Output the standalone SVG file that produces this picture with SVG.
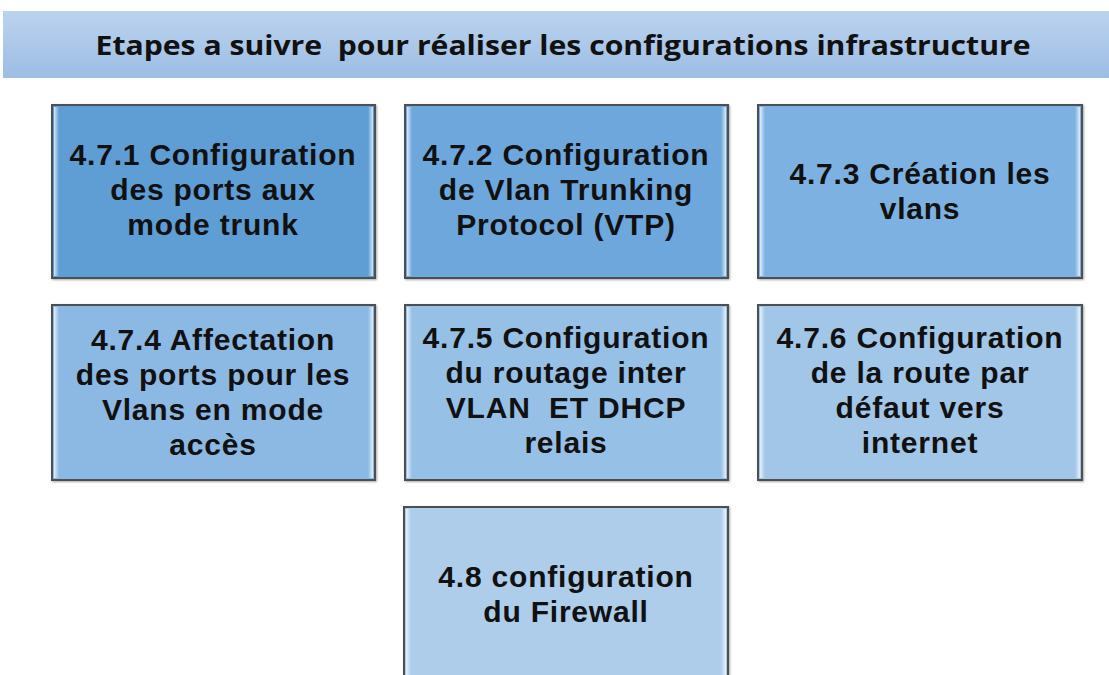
<svg xmlns="http://www.w3.org/2000/svg" width="1109" height="675" viewBox="0 0 1109 675">
  <defs>
    <linearGradient id="barFill" x1="0" y1="0" x2="0" y2="1">
      <stop offset="0" stop-color="#bcd3ee"/>
      <stop offset="1" stop-color="#9dbde4"/>
    </linearGradient>
    <linearGradient id="edgeGlow" x1="0" y1="0" x2="1" y2="0">
      <stop offset="0" stop-color="#ffffff" stop-opacity="0.75"/>
      <stop offset="1" stop-color="#ffffff" stop-opacity="0"/>
    </linearGradient>
    <linearGradient id="edgeGlowR" x1="1" y1="0" x2="0" y2="0">
      <stop offset="0" stop-color="#ffffff" stop-opacity="0.75"/>
      <stop offset="1" stop-color="#ffffff" stop-opacity="0"/>
    </linearGradient>
    <filter id="soft" x="-5%" y="-5%" width="110%" height="110%">
      <feDropShadow dx="1" dy="1" stdDeviation="1.2" flood-color="#000" flood-opacity="0.35"/>
    </filter>
  </defs>
  <style>
    .box { stroke: #4d4f52; stroke-width: 2; filter: url(#soft); }
    .lbl { font-family: "Liberation Sans", Arial, sans-serif; font-weight: 700; font-size: 30px; letter-spacing: 0.8px; fill: #111; text-anchor: middle; }
    .title { font-family: "Open Sans", "Liberation Sans", sans-serif; font-weight: 700; font-size: 26px; fill: #111; text-anchor: middle; }
  </style>

  <rect width="1109" height="675" fill="#ffffff"/>

  <!-- heading bar -->
  <g id="header">
    <rect x="3" y="11" width="1110" height="67" fill="url(#barFill)"/>
    <text class="title" x="563" y="55" textLength="935" lengthAdjust="spacingAndGlyphs" xml:space="preserve">Etapes a suivre  pour réaliser les configurations infrastructure</text>
  </g>

  <!-- no connectors in this chart -->
  <g id="connectors"></g>

  <g id="step-471">
    <rect class="box" x="52" y="105" width="323" height="173" fill="#5f9dd5"/>
    <rect x="54" y="107" width="5" height="169" fill="url(#edgeGlow)"/>
    <rect x="368" y="107" width="5" height="169" fill="url(#edgeGlowR)"/>
    <text class="lbl" x="213" y="165">4.7.1 Configuration</text>
    <text class="lbl" x="213" y="200">des ports aux</text>
    <text class="lbl" x="213" y="235">mode trunk</text>
  </g>

  <g id="step-472">
    <rect class="box" x="405" y="105" width="323" height="173" fill="#6ea7dc"/>
    <rect x="407" y="107" width="5" height="169" fill="url(#edgeGlow)"/>
    <rect x="721" y="107" width="5" height="169" fill="url(#edgeGlowR)"/>
    <text class="lbl" x="566" y="165">4.7.2 Configuration</text>
    <text class="lbl" x="566" y="200">de Vlan Trunking</text>
    <text class="lbl" x="566" y="235">Protocol (VTP)</text>
  </g>

  <g id="step-473">
    <rect class="box" x="758" y="105" width="324" height="173" fill="#7db1e1"/>
    <rect x="760" y="107" width="5" height="169" fill="url(#edgeGlow)"/>
    <rect x="1075" y="107" width="5" height="169" fill="url(#edgeGlowR)"/>
    <text class="lbl" x="920" y="184">4.7.3 Création les</text>
    <text class="lbl" x="920" y="219">vlans</text>
  </g>

  <g id="step-474">
    <rect class="box" x="52" y="305" width="323" height="175" fill="#8bb9e3"/>
    <rect x="54" y="307" width="5" height="171" fill="url(#edgeGlow)"/>
    <rect x="368" y="307" width="5" height="171" fill="url(#edgeGlowR)"/>
    <text class="lbl" x="213" y="350">4.7.4 Affectation</text>
    <text class="lbl" x="213" y="385">des ports pour les</text>
    <text class="lbl" x="213" y="420">Vlans en mode</text>
    <text class="lbl" x="213" y="455">accès</text>
  </g>

  <g id="step-475">
    <rect class="box" x="405" y="305" width="323" height="175" fill="#97c0e6"/>
    <rect x="407" y="307" width="5" height="171" fill="url(#edgeGlow)"/>
    <rect x="721" y="307" width="5" height="171" fill="url(#edgeGlowR)"/>
    <text class="lbl" x="566" y="348">4.7.5 Configuration</text>
    <text class="lbl" x="566" y="383">du routage inter</text>
    <text class="lbl" x="566" y="418" xml:space="preserve">VLAN  ET DHCP</text>
    <text class="lbl" x="566" y="453">relais</text>
  </g>

  <g id="step-476">
    <rect class="box" x="758" y="305" width="324" height="175" fill="#a2c6e8"/>
    <rect x="760" y="307" width="5" height="171" fill="url(#edgeGlow)"/>
    <rect x="1075" y="307" width="5" height="171" fill="url(#edgeGlowR)"/>
    <text class="lbl" x="920" y="348">4.7.6 Configuration</text>
    <text class="lbl" x="920" y="383">de la route par</text>
    <text class="lbl" x="920" y="418">défaut vers</text>
    <text class="lbl" x="920" y="453">internet</text>
  </g>

  <g id="step-48">
    <rect class="box" x="404" y="507" width="324" height="180" fill="#adcdeb"/>
    <rect x="406" y="509" width="5" height="170" fill="url(#edgeGlow)"/>
    <rect x="721" y="509" width="5" height="170" fill="url(#edgeGlowR)"/>
    <text class="lbl" x="566" y="587">4.8 configuration</text>
    <text class="lbl" x="566" y="622">du Firewall</text>
  </g>
</svg>
